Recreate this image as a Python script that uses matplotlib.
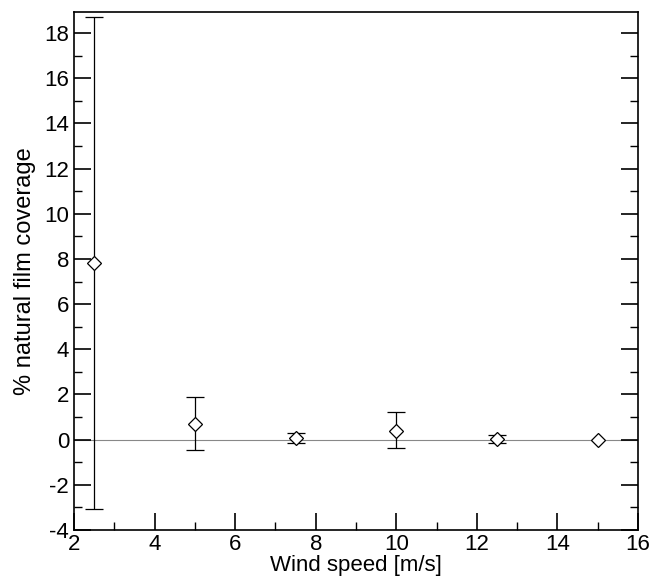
import matplotlib
matplotlib.use('Agg')
import matplotlib.pyplot as plt
from matplotlib.ticker import MultipleLocator

plt.rcParams['font.family'] = ['Liberation Sans', 'DejaVu Sans']
plt.rcParams['axes.unicode_minus'] = False

wind = [2.5, 5.0, 7.5, 10.0, 12.5]
coverage = [7.8, 0.70, 0.09, 0.40, 0.04]
err_low = [3.06 + 7.8, 0.70 + 0.47, 0.09 + 0.13, 0.40 + 0.38, 0.04 + 0.13]
err_high = [18.7 - 7.8, 1.87 - 0.70, 0.28 - 0.09, 1.20 - 0.40, 0.19 - 0.04]
# last point has no visible error bar
wind_last = [15.0]
coverage_last = [0.0]

fig = plt.figure(figsize=(6.49, 5.76), dpi=100)
ax = fig.add_axes([0.114, 0.080, 0.869, 0.899])

ax.axhline(0, color='#888888', lw=0.8, zorder=1)
ax.errorbar(wind, coverage, yerr=[err_low, err_high], fmt='D', ms=7,
            mfc='white', mec='black', mew=0.9, ecolor='black', elinewidth=0.9,
            capsize=6.5, capthick=0.9, zorder=3)
ax.plot(wind_last, coverage_last, 'D', ms=7, mfc='white', mec='black', mew=0.9, zorder=3)

ax.set_xlim(2, 16)
ax.set_ylim(-4, 18.93)
ax.xaxis.set_major_locator(MultipleLocator(2))
ax.xaxis.set_minor_locator(MultipleLocator(1))
ax.yaxis.set_major_locator(MultipleLocator(2))
ax.yaxis.set_minor_locator(MultipleLocator(1))
ax.tick_params(which='both', direction='in', right=True, top=False, labelsize=16)
ax.tick_params(axis='x', pad=3)
ax.tick_params(which='major', length=12, width=1.2)
ax.tick_params(which='minor', length=6, width=1.0)
for s in ax.spines.values():
    s.set_linewidth(1.2)

ax.set_xlabel('Wind speed [m/s]', fontsize=16, labelpad=0)
ax.set_ylabel('% natural film coverage', fontsize=17, labelpad=6)

fig.savefig('out.png', dpi=100)
